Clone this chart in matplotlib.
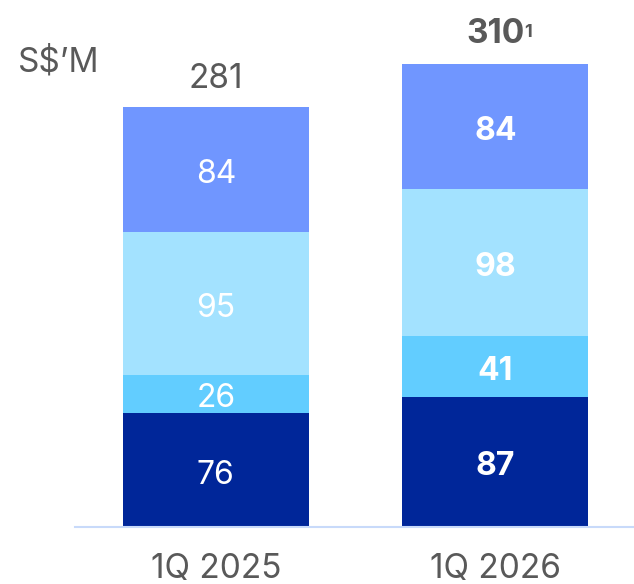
import numpy as np
import matplotlib.pyplot as plt

plt.rcParams['font.family'] = ['Inter', 'DejaVu Sans']

quarters = ['1Q 2025', '1Q 2026']
seg_a = [76, 87]   # bottom, navy
seg_b = [26, 41]   # light blue
seg_c = [95, 98]   # very light blue
seg_d = [84, 84]   # periwinkle, top
totals = ['281', '310']

colors = ['#002699', '#62CDFF', '#A3E2FF', '#7096FF']
gray = '#595959'

fig = plt.figure(figsize=(6.34, 5.84), dpi=100)
ax = fig.add_axes([75 / 634, 57 / 584, 559 / 634, 527 / 584])
ax.set_xlim(-0.504, 1.496)
ax.set_ylim(0, 352.5)

x = np.arange(len(quarters))
bottom = np.zeros(len(quarters))
for i, seg in enumerate([seg_a, seg_b, seg_c, seg_d]):
    ax.bar(x, seg, width=0.665, bottom=bottom, color=colors[i], linewidth=0)
    for j, v in enumerate(seg):
        ax.text(x[j], bottom[j] + v / 2 - 1, str(v), ha='center', va='center_baseline',
                color='white', fontsize=23,
                fontweight='bold' if j == 1 else 'normal')
    bottom += np.array(seg)

# totals
ax.text(x[0], bottom[0] + 8, totals[0], ha='center', va='bottom',
        color=gray, fontsize=24)
t = ax.text(x[1], bottom[1] + 9, totals[1], ha='center', va='bottom',
            color=gray, fontsize=24, fontweight='bold')
ax.annotate('1', xy=(1, 1), xycoords=t, xytext=(0, -4), textcoords='offset points',
            ha='left', va='top', color=gray, fontsize=13, fontweight='bold')

fig.text(18 / 634, 1 - 62 / 584, 'S$\u2019M', ha='left', va='center',
         color=gray, fontsize=24)

for s in ['top', 'right', 'left']:
    ax.spines[s].set_visible(False)
ax.spines['bottom'].set_color('#C8DAFA')
ax.spines['bottom'].set_linewidth(1.5)
ax.set_yticks([])
ax.set_xticks(x)
ax.set_xticklabels(quarters, fontsize=24, color=gray)
ax.tick_params(axis='x', length=0, pad=19)

fig.savefig('out.png', dpi=100)
